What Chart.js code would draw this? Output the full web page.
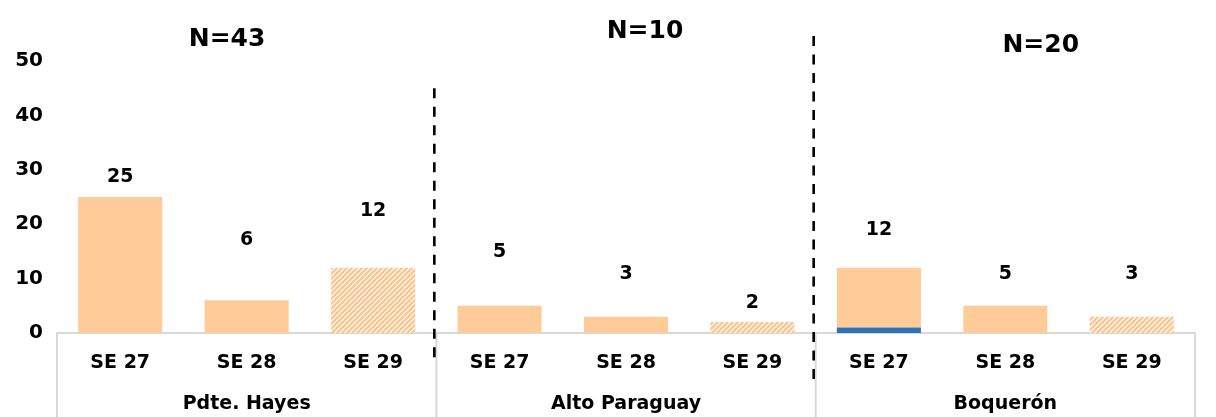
<!DOCTYPE html>
<html>
<head>
<meta charset="utf-8">
<script src="https://cdn.jsdelivr.net/npm/chart.js@4"></script>
<style>
  html,body{margin:0;padding:0;background:#fff;}
  #wrap{width:1216px;height:417px;position:relative;}
</style>
</head>
<body>
<div id="wrap"><canvas id="c"></canvas></div>
<script>
// ---- data ----
const weeks = ['SE 27','SE 28','SE 29','SE 27','SE 28','SE 29','SE 27','SE 28','SE 29'];
const groups = ['Pdte. Hayes','Alto Paraguay','Boquerón'];
const groupN = ['N=43','N=10','N=20'];
const blueValues = [0,0,0,0,0,0,1,0,0];
const orangeValues = [25,6,12,5,3,2,11,5,3];
const partialWeek = [false,false,true,false,false,true,false,false,true];
const yTicks = [0,10,20,30,40,50];

// label placement (in y-axis units) and N-label placement (category index / y units)
const labelAt = [28.7,17.1,22.4,14.9,10.8,5.5,18.9,10.8,10.8];
const nLabelAt = [{x:0.845,y:53.9},{x:4.15,y:55.5},{x:7.28,y:52.9}];

const FONT = "'DejaVu Sans', sans-serif";
const ORANGE = '#ffcc99';
const BLUE = '#2e75b6';

function hatch(){
  const s = 5;
  const c = document.createElement('canvas');
  c.width = s; c.height = s;
  const g = c.getContext('2d');
  g.fillStyle = '#ffffff'; g.fillRect(0,0,s,s);
  g.strokeStyle = '#fdc690'; g.lineWidth = 2.4;
  g.beginPath();
  g.moveTo(-1, s+1); g.lineTo(s+1, -1);
  g.moveTo(-1-s, s+1); g.lineTo(1, -1);
  g.moveTo(s-1, s+1); g.lineTo(2*s+1, -1);
  g.stroke();
  return g.createPattern(c,'repeat');
}
const hatchPattern = hatch();

const overlay = {
  id:'overlay',
  afterDatasetsDraw(chart){
    const ctx = chart.ctx;
    const xs = chart.scales.x, ys = chart.scales.y;
    const ca = chart.chartArea;
    const n = weeks.length;
    const boundary = i => i===0 ? ca.left : (i===n ? ca.right : (xs.getPixelForValue(i-1)+xs.getPixelForValue(i))/2);
    ctx.save();
    // box lines below axis
    ctx.strokeStyle = '#d9d9d9'; ctx.lineWidth = 2;
    [0,3,6,9].forEach(i=>{
      const x = boundary(i);
      ctx.beginPath(); ctx.moveTo(x, ca.bottom); ctx.lineTo(x, chart.height); ctx.stroke();
    });
    // dashed separators
    ctx.strokeStyle = '#000'; ctx.lineWidth = 2.6; ctx.setLineDash([10,8.5]);
    [{i:3, top:45.0, bot:29},{i:6, top:54.6, bot:49}].forEach(d=>{
      const x = boundary(d.i) - 2;
      ctx.beginPath(); ctx.moveTo(x, ys.getPixelForValue(d.top)); ctx.lineTo(x, ca.bottom + d.bot); ctx.stroke();
    });
    ctx.setLineDash([]);
    // value labels
    ctx.fillStyle = '#000'; ctx.textAlign = 'center'; ctx.textBaseline = 'middle';
    ctx.font = "bold 19px " + FONT;
    for(let i=0;i<n;i++){
      const total = blueValues[i] + orangeValues[i];
      ctx.fillText(String(total), xs.getPixelForValue(i), ys.getPixelForValue(labelAt[i]));
    }
    // N labels
    ctx.font = "bold 25px " + FONT;
    groupN.forEach((t,k)=>{
      const p = nLabelAt[k];
      const f = Math.floor(p.x);
      const x0 = xs.getPixelForValue(f), x1 = xs.getPixelForValue(f+1);
      const x = x0 + (x1-x0)*(p.x-f);
      ctx.fillText(t, x, ys.getPixelForValue(p.y));
    });
    ctx.restore();
  }
};

new Chart(document.getElementById('c'), {
  type:'bar',
  data:{
    labels: weeks,
    datasets:[
      {label:'b', data: blueValues, backgroundColor: BLUE, categoryPercentage:1, barPercentage:0.665},
      {label:'o', data: orangeValues, backgroundColor: ctx => partialWeek[ctx.dataIndex] ? hatchPattern : ORANGE,
       categoryPercentage:1, barPercentage:0.665}
    ]
  },
  options:{
    responsive:true, maintainAspectRatio:false, animation:false,
    layout:{padding:{left:0, right:21, top:61, bottom:0}},
    plugins:{legend:{display:false}, tooltip:{enabled:false}},
    scales:{
      x:{
        stacked:true,
        grid:{display:false, drawTicks:false},
        border:{display:true, color:'#d9d9d9', width:2},
        ticks:{color:'#000', font:{family:FONT, weight:'bold', size:19}, padding:19, maxRotation:0},
        afterFit: s => { s.height = 46; }
      },
      x2:{
        type:'category', labels: groups, position:'bottom', offset:true,
        grid:{display:false, drawTicks:false},
        border:{display:false},
        ticks:{color:'#000', font:{family:FONT, weight:'bold', size:19}, padding:14, maxRotation:0},
        afterFit: s => { s.height = 38; }
      },
      y:{
        stacked:true, min:0, max:50,
        afterBuildTicks: s => { s.ticks = yTicks.map(v=>({value:v})); },
        grid:{display:false, drawTicks:false},
        border:{display:false},
        ticks:{color:'#000', font:{family:FONT, weight:'bold', size:20}, padding:14},
        afterFit: s => { s.width = 57; }
      }
    }
  },
  plugins:[overlay]
});
</script>
</body>
</html>
